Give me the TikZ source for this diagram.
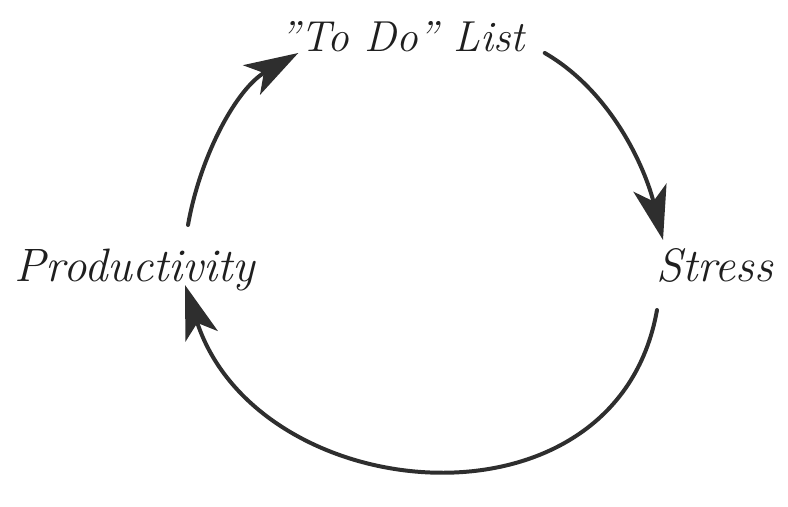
\documentclass[tikz,border=0pt]{standalone}
\usetikzlibrary{arrows.meta}
\begin{document}
\begin{tikzpicture}
% TikZ loop diagram, coordinates given in pixels of the scan
\def\px{0.03cm}
\providecommand{\loopLineColor}{black!82}
\providecommand{\loopTextColor}{black!88}
\providecommand{\loopLineWidth}{3.4pt}
\begin{scope}[x=\px, y=\px, line cap=round, line join=round,
  label text/.style={inner sep=0pt, text=\loopTextColor, anchor=base,
    font=\fontsize{40}{48}\selectfont\itshape},
  loop arrow/.style={draw=\loopLineColor, line width=\loopLineWidth,
    -{Stealth[length=46pt, width=29pt, inset=12pt]}}]
  % Page frame
  \useasboundingbox (0,0) rectangle (788,506);
  % Labels
  \node[label text, font=\fontsize{37}{44}\selectfont\itshape] (todo) at (402,454) {"To Do" List};
  \node[label text] (prod) at (135,224) {Productivity};
  \node[label text] (stress) at (715,224) {Stress};
  % Arrows round the loop
  \draw[loop arrow] ([shift={(53,57)}]prod.base)
    .. controls +(80:71) and +(210:71) .. ([shift={(19,-1)}]todo.base west);
  \draw[loop arrow] ([shift={(20,-1)}]todo.base east)
    .. controls +(-30:76) and +(104:76) .. ([shift={(-52,42)}]stress.base);
  \draw[loop arrow] ([shift={(-58,-28)}]stress.base)
    .. controls +(-100:235) and +(-72:235) .. ([shift={(50,-3)}]prod.base);
\end{scope}
\end{tikzpicture}
\end{document}
